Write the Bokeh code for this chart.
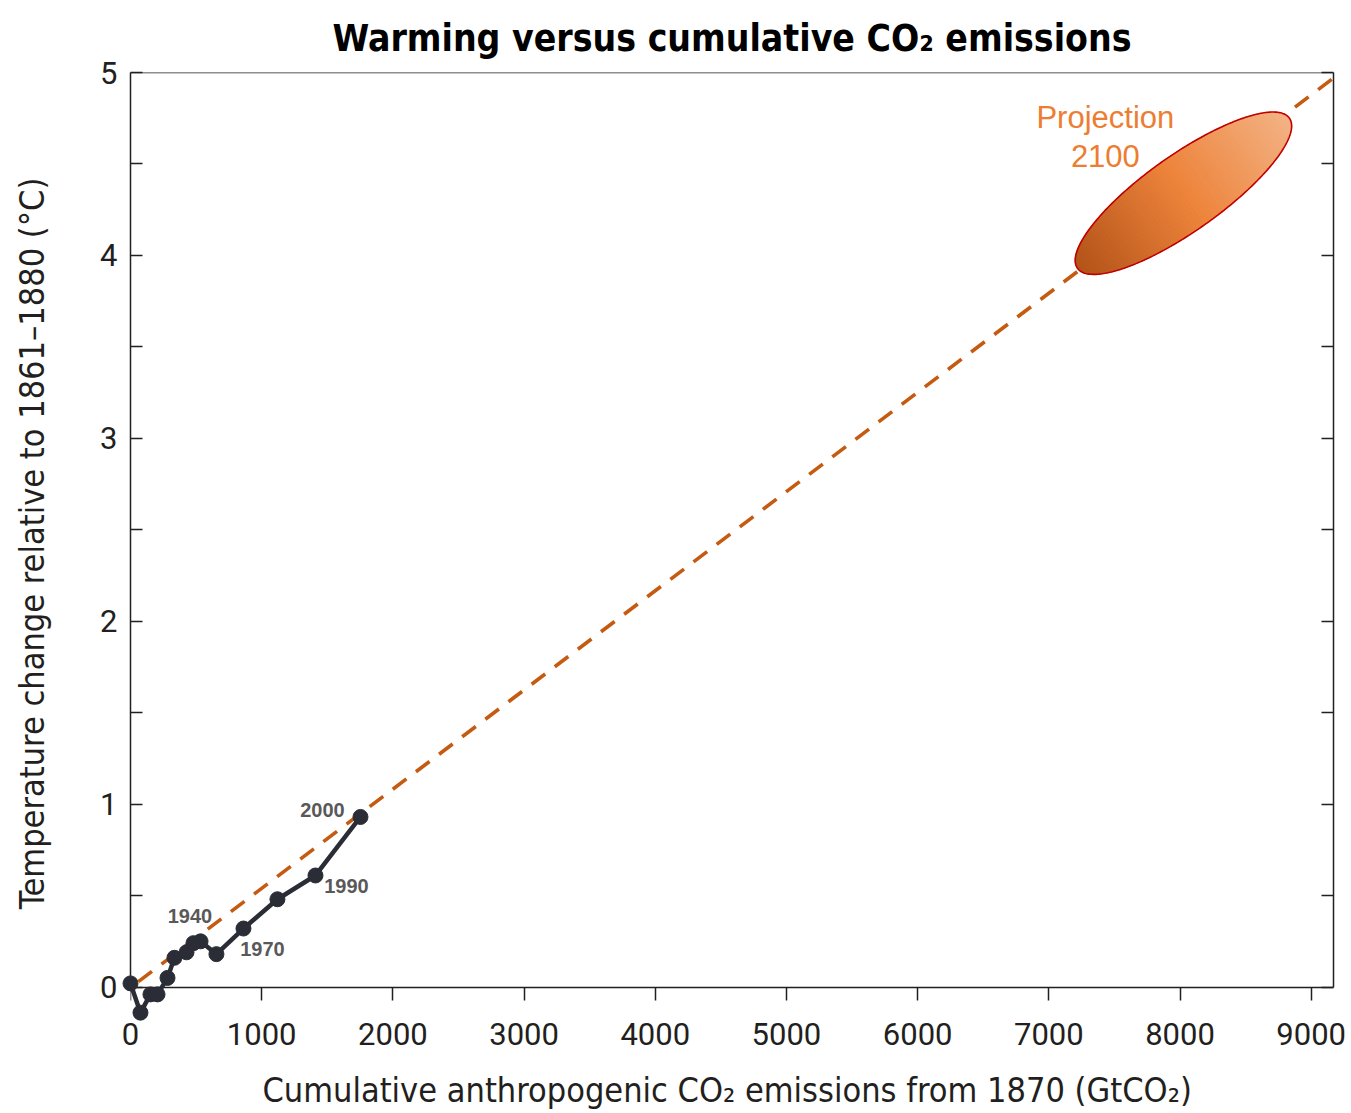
import numpy as np
from bokeh.plotting import figure
from bokeh.models import Range1d, LinearAxis, FixedTicker, ColumnDataSource, Span
from bokeh.core.properties import value
from bokeh.embed import file_html
from bokeh.resources import INLINE

# ---------------- data ----------------
cum_emissions = [0, 76, 152, 206, 282, 335, 427, 480, 534, 655, 861, 1120, 1410, 1753]
temp_change = [0.02, -0.14, -0.04, -0.04, 0.05, 0.16, 0.19, 0.24, 0.25, 0.18, 0.32, 0.48, 0.61, 0.93]

year_labels = ["1940", "1970", "1990", "2000"]
year_label_x = [453, 1006, 1646, 1463]
year_label_y = [0.388, 0.208, 0.552, 0.967]

trend_x = [60, 9170]
trend_y = [0.03, 4.97]

# projection ellipse (centre and semi-axis vectors, data units)
proj_center = (8026, 4.34)
proj_major = (808, 0.41)
proj_minor = (-166, 0.170)
proj_label = ["Projection", "2100"]
proj_label_x = [7431, 7431]
proj_label_y = [4.754, 4.546]

x_ticks = [0, 1000, 2000, 3000, 4000, 5000, 6000, 7000, 8000, 9000]
y_ticks = [0, 1, 2, 3, 4, 5]
y_minor_ticks = [0.5, 1.5, 2.5, 3.5, 4.5]

TITLE = "Warming versus cumulative CO\u2082 emissions"
X_LABEL = "Cumulative anthropogenic CO\u2082 emissions from 1870  (GtCO\u2082)"
Y_LABEL = "Temperature change relative to 1861\u20131880 (\u00b0C)"

# ---------------- styling ----------------
LABEL_FONT = "'DejaVu Sans Condensed', 'DejaVu Sans'"
TICK_FONT = "Roboto"
INK = "#231f20"

p = figure(width=1351, height=1113, x_range=Range1d(0, 9170), y_range=Range1d(-0.15, 5),
           output_backend="svg", toolbar_location=None,
           x_axis_location=None, y_axis_location=None,
           min_border_left=130, min_border_right=18, min_border_top=72, min_border_bottom=99)
p.grid.visible = False
p.outline_line_color = None
p.background_fill_color = "white"
p.border_fill_color = "white"

p.title.text = TITLE
p.title.align = "center"
p.title.vertical_align = "bottom"
p.title.text_font = LABEL_FONT
p.title.text_font_size = "37px"
p.title.text_font_style = "bold"
p.title.text_color = "black"
p.title.standoff = 26

# axis line and ticks at y = 0
xaxis = LinearAxis(ticker=FixedTicker(ticks=x_ticks), fixed_location=0)
xaxis.major_label_overrides = {t: "" for t in x_ticks}
xaxis.major_label_standoff = 0
xaxis.major_tick_in = 0
xaxis.major_tick_out = 13
xaxis.minor_tick_in = 0
xaxis.minor_tick_out = 0
xaxis.major_tick_line_color = INK
xaxis.major_tick_line_width = 1.5
xaxis.axis_line_color = INK
xaxis.axis_line_width = 1.5
p.add_layout(xaxis, "below")

# tick labels and axis title
xlab = LinearAxis(ticker=FixedTicker(ticks=x_ticks))
xlab.axis_line_color = None
xlab.major_tick_line_color = None
xlab.minor_tick_line_color = None
xlab.major_tick_in = 0
xlab.major_tick_out = 0
xlab.minor_tick_in = 0
xlab.minor_tick_out = 0
xlab.major_label_standoff = 8
xlab.major_label_text_font = TICK_FONT
xlab.major_label_text_font_size = "31px"
xlab.major_label_text_color = INK
xlab.axis_label = X_LABEL
xlab.axis_label_text_font = LABEL_FONT
xlab.axis_label_text_font_size = "34px"
xlab.axis_label_text_font_style = "normal"
xlab.axis_label_text_color = INK
xlab.axis_label_standoff = 22
p.add_layout(xlab, "below")

yaxis = LinearAxis(ticker=FixedTicker(ticks=y_ticks, minor_ticks=y_minor_ticks), bounds=(0, 5))
yaxis.axis_label = Y_LABEL
yaxis.axis_label_text_font = LABEL_FONT
yaxis.axis_label_text_font_size = "34px"
yaxis.axis_label_text_font_style = "normal"
yaxis.axis_label_text_color = INK
yaxis.axis_label_standoff = 45
yaxis.major_label_text_font = TICK_FONT
yaxis.major_label_text_font_size = "31px"
yaxis.major_label_text_color = INK
yaxis.major_label_standoff = 13
yaxis.major_tick_in = 12
yaxis.major_tick_out = 0
yaxis.minor_tick_in = 12
yaxis.minor_tick_out = 0
yaxis.major_tick_line_color = INK
yaxis.minor_tick_line_color = INK
yaxis.major_tick_line_width = 1.5
yaxis.minor_tick_line_width = 1.5
yaxis.axis_line_color = INK
yaxis.axis_line_width = 1.5
p.add_layout(yaxis, "left")

raxis = LinearAxis(ticker=FixedTicker(ticks=y_ticks, minor_ticks=y_minor_ticks), bounds=(0, 5))
raxis.major_label_overrides = {t: "" for t in y_ticks}
raxis.major_label_standoff = 0
raxis.major_tick_in = 12
raxis.major_tick_out = 0
raxis.minor_tick_in = 12
raxis.minor_tick_out = 0
raxis.major_tick_line_color = INK
raxis.minor_tick_line_color = INK
raxis.major_tick_line_width = 1.5
raxis.minor_tick_line_width = 1.5
raxis.axis_line_color = INK
raxis.axis_line_width = 1.5
p.add_layout(raxis, "right")

p.add_layout(Span(location=5, dimension="width", line_color=INK, line_width=1.5))

# ---------------- trend line ----------------
p.line(trend_x, trend_y, line_color="#c55a11", line_width=3.6, line_dash="17 12")

# ---------------- projection ellipse with gradient ----------------
cx, cy = proj_center
axx, axy = proj_major
bxx, bxy = proj_minor
stops_c = [(178, 82, 24), (237, 131, 58), (243, 178, 132)]

def grad(t):
    if t <= 0:
        f = (t + 1.0)
        a, b = stops_c[0], stops_c[1]
    else:
        f = t
        a, b = stops_c[1], stops_c[2]
    r, g, bl = (int(round(a[i] + (b[i] - a[i]) * f)) for i in range(3))
    return "#%02x%02x%02x" % (r, g, bl)

n_strips = 70
edges = np.linspace(-1, 1, n_strips + 1)
sx, sy, scol = [], [], []
for s0, s1 in zip(edges[:-1], edges[1:]):
    u_up = np.linspace(s0, s1, 10)
    v_up = np.sqrt(np.clip(1 - u_up ** 2, 0, None))
    u = np.concatenate([u_up, u_up[::-1]])
    v = np.concatenate([v_up, -v_up[::-1]])
    sx.append(list(cx + axx * u + bxx * v))
    sy.append(list(cy + axy * u + bxy * v))
    scol.append(grad((s0 + s1) / 2))
p.patches(sx, sy, fill_color=scol, line_color=scol, line_width=1)

tt = np.linspace(0, 2 * np.pi, 300)
p.patch(cx + axx * np.cos(tt) + bxx * np.sin(tt), cy + axy * np.cos(tt) + bxy * np.sin(tt),
        fill_color=None, line_color="#c00000", line_width=1.6)

# ---------------- observations ----------------
src = ColumnDataSource(dict(x=cum_emissions, y=temp_change))
p.line("x", "y", source=src, line_color="#2a2d36", line_width=4.5, level="overlay")
p.scatter("x", "y", source=src, size=15, fill_color="#2a2d36", line_color="#2a2d36", level="overlay")

p.text(year_label_x, year_label_y, text=year_labels, text_font=value("Liberation Sans"),
       text_font_style="bold", text_font_size="20px", text_color="#595959",
       text_align="center", text_baseline="middle")

p.text(proj_label_x, proj_label_y, text=proj_label, text_font=value("Liberation Sans"),
       text_font_size="31px", text_color="#ed7d31", text_align="center", text_baseline="middle")

open("out.html", "w").write(file_html(p, INLINE))
